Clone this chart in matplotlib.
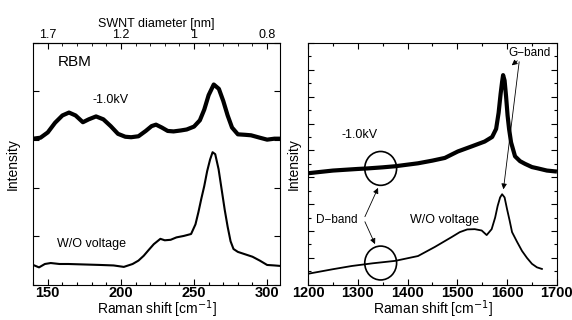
import numpy as np
import matplotlib
matplotlib.use('Agg')
from matplotlib import pyplot as plt
from matplotlib.patches import Ellipse
from matplotlib.ticker import MultipleLocator

plt.rcParams['font.family'] = ['Liberation Sans', 'DejaVu Sans']

# --- RBM region (left panel) ---
rbm_kv_x = [140, 145, 150, 155, 160, 164.5, 169, 174, 178, 183, 188, 193, 198, 203, 207,
            212, 217, 221, 224, 228, 232, 236, 241, 245, 250, 254, 257, 260, 263.5, 267,
            270, 273, 276, 280, 285, 289, 295, 300, 305, 309]
rbm_kv_y = [3.02, 3.04, 3.15, 3.35, 3.50, 3.56, 3.50, 3.36, 3.42, 3.48, 3.42, 3.28, 3.12,
            3.06, 3.05, 3.07, 3.18, 3.28, 3.31, 3.25, 3.18, 3.17, 3.19, 3.21, 3.27, 3.40,
            3.62, 3.92, 4.14, 4.05, 3.80, 3.50, 3.25, 3.11, 3.10, 3.09, 3.04, 3.00, 3.02, 3.02]
rbm_wo_x = [140, 144, 148, 152, 158, 164, 175, 186, 195, 202, 208, 212, 215.6, 219, 222.5,
            227, 230, 234, 238, 243, 248, 251, 253, 255, 257, 259, 261, 262.7, 264.5, 266.8,
            269, 271, 273, 275, 277, 280, 285, 290, 295, 300, 305, 309]
rbm_wo_y = [0.41, 0.36, 0.43, 0.45, 0.43, 0.43, 0.42, 0.41, 0.40, 0.37, 0.43, 0.50, 0.60,
            0.72, 0.84, 0.95, 0.92, 0.93, 0.98, 1.01, 1.05, 1.25, 1.50, 1.78, 2.04, 2.35,
            2.59, 2.74, 2.70, 2.39, 1.95, 1.55, 1.20, 0.90, 0.74, 0.68, 0.63, 0.58, 0.50,
            0.41, 0.40, 0.39]
top_ticks = [150, 200, 250, 300]
top_labels = ['1.7', '1.2', '1', '0.8']

# --- D/G band region (right panel) ---
g_kv_x = [1200, 1250, 1300, 1320, 1350, 1375, 1400, 1421, 1450, 1475, 1501, 1529, 1555,
          1570, 1578, 1583, 1587, 1590, 1592, 1595, 1598, 1601, 1604, 1608, 1616, 1626,
          1636, 1650, 1662, 1680, 1696]
g_kv_y = [4.15, 4.25, 4.31, 4.33, 4.37, 4.41, 4.47, 4.52, 4.62, 4.72, 4.96, 5.15, 5.33,
          5.50, 5.80, 6.40, 7.10, 7.55, 7.80, 7.60, 7.00, 6.30, 5.80, 5.30, 4.78, 4.60,
          4.50, 4.38, 4.33, 4.25, 4.22]
g_wo_x = [1200, 1250, 1288, 1330, 1375, 1421, 1455, 1489, 1505, 1520, 1535, 1549, 1559,
          1569, 1576, 1581, 1586, 1590, 1595, 1600, 1605, 1610, 1620, 1630, 1640, 1650,
          1660, 1670]
g_wo_y = [0.41, 0.58, 0.70, 0.80, 0.89, 1.07, 1.41, 1.78, 1.96, 2.06, 2.07, 2.02, 1.85,
          2.07, 2.50, 2.93, 3.25, 3.37, 3.25, 2.81, 2.40, 1.96, 1.60, 1.26, 1.00, 0.78,
          0.65, 0.59]

fig = plt.figure(figsize=(5.72, 3.2), dpi=100)
ax1 = fig.add_axes([0.058, 0.11, 0.432, 0.756])
ax2 = fig.add_axes([0.5385, 0.11, 0.435, 0.756])

tick_kw = dict(direction='in', top=True, right=True, width=0.8)

# left panel
ax1.plot(rbm_kv_x, rbm_kv_y, color='black', lw=3.0, solid_capstyle='round')
ax1.plot(rbm_wo_x, rbm_wo_y, color='black', lw=1.5)
ax1.set_xlim(140, 309)
ax1.set_ylim(0, 5)
ax1.xaxis.set_major_locator(MultipleLocator(50))
ax1.xaxis.set_minor_locator(MultipleLocator(10))
ax1.yaxis.set_major_locator(MultipleLocator(1))
ax1.set_yticklabels([])
ax1.tick_params(which='major', length=4, **tick_kw)
ax1.tick_params(which='minor', length=2, **tick_kw)
for lab in ax1.get_xticklabels():
    lab.set_fontsize(10.5)
    lab.set_fontweight('bold')
ax1.tick_params(axis='x', pad=1)
ax1.set_xlabel('Raman shift [cm$^{-1}$]', fontsize=10, labelpad=-1)
ax1.set_ylabel('Intensity', fontsize=10, labelpad=6)

top = ax1.secondary_xaxis('top')
top.set_xticks(top_ticks)
top.set_xticklabels(top_labels, fontsize=9)
top.xaxis.set_minor_locator(MultipleLocator(10))
top.tick_params(which='major', direction='in', length=4, pad=1)
top.tick_params(which='minor', direction='in', length=2)
top.set_xlabel('SWNT diameter [nm]', fontsize=9, labelpad=2)
ax1.tick_params(axis='x', which='both', top=False)

ax1.text(157, 4.52, 'RBM', fontsize=11)
ax1.text(193, 3.75, '-1.0kV', fontsize=9, ha='center')
ax1.text(180, 0.78, 'W/O voltage', fontsize=9, ha='center')

# right panel
ax2.plot(g_kv_x, g_kv_y, color='black', lw=3.0)
ax2.plot(g_wo_x, g_wo_y, color='black', lw=1.3)
ax2.set_xlim(1200, 1700)
ax2.set_ylim(0, 9)
ax2.xaxis.set_major_locator(MultipleLocator(100))
ax2.xaxis.set_minor_locator(MultipleLocator(50))
ax2.yaxis.set_major_locator(MultipleLocator(1))
ax2.yaxis.set_minor_locator(MultipleLocator(0.5))
ax2.set_yticklabels([])
ax2.tick_params(which='major', length=4, **tick_kw)
ax2.tick_params(which='minor', length=2, **tick_kw)
for lab in ax2.get_xticklabels():
    lab.set_fontsize(10.5)
    lab.set_fontweight('bold')
ax2.tick_params(axis='x', pad=1)
ax2.set_xlabel('Raman shift [cm$^{-1}$]', fontsize=10, labelpad=-1)
ax2.set_ylabel('Intensity', fontsize=10, labelpad=2)

circle_x = 1346
circle_top_y = 4.33
circle_bot_y = 0.81
for cy in (circle_top_y, circle_bot_y):
    ax2.add_patch(Ellipse((circle_x, cy), 64, 1.26, fill=False, lw=1.2, color='black'))

ax2.text(1304, 5.45, '-1.0kV', fontsize=9, ha='center')
ax2.text(1258, 2.3, 'D\u2212band', fontsize=8.5, ha='center')
ax2.text(1475, 2.3, 'W/O voltage', fontsize=9, ha='center')
ax2.text(1645, 8.5, 'G\u2212band', fontsize=8.5, ha='center')

arrow_kw = dict(arrowstyle='-|>', lw=0.6, color='black', mutation_scale=8)
d_from = (1312, 2.44)
ax2.annotate('', xy=(1343, 3.70), xytext=d_from, arrowprops=arrow_kw)
ax2.annotate('', xy=(1337, 1.42), xytext=d_from, arrowprops=arrow_kw)
g_from = (1625, 8.4)
ax2.annotate('', xy=(1605, 8.1), xytext=g_from, arrowprops=arrow_kw)
ax2.annotate('', xy=(1592, 3.45), xytext=g_from, arrowprops=arrow_kw)

fig.savefig('out.png', dpi=100)
